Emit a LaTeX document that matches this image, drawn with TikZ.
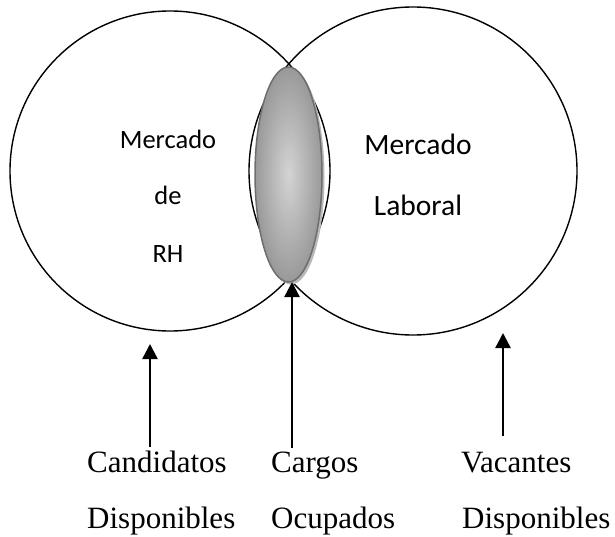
\documentclass[tikz,border=0pt]{standalone}
\usepackage{fontspec}
\setmainfont{Liberation Serif}
\newfontfamily\calibri{Carlito}
\usepackage{tikz}
\usetikzlibrary{arrows.meta}
\usetikzlibrary{shapes.geometric}
\usetikzlibrary{shadows}
\tikzset{ml/.style={font=\calibri\fontsize{26.5}{26.5}\selectfont, anchor=base}}
\tikzset{mr/.style={font=\calibri\fontsize{29.5}{29.5}\selectfont, anchor=base}}
\tikzset{lab/.style={font=\fontsize{31}{31}\selectfont, anchor=base west, inner sep=0}}
\tikzset{up/.style={line width=2.4pt, -{Triangle[width=15pt,length=15pt]}}}
\tikzset{mkt/.style={circle, draw, line width=1.4pt, inner sep=0}}

\begin{document}
\begin{tikzpicture}[x=1pt, y=-1pt, line join=round]
  \useasboundingbox (0,0) rectangle (615,537);
  % the two markets
  \node[mkt, minimum size=320pt] (RH) at (170,171) {};
  \node[mkt, minimum size=328pt] (LB) at (413,171) {};
  % filled jobs
  \node[ellipse, draw=black!57, line width=1.5pt, minimum width=67pt, minimum height=215pt, inner sep=0,
        inner color=black!17, outer color=black!40,
        drop shadow={shadow xshift=2.5pt, shadow yshift=-2.5pt, fill=black!28, opacity=1}] (CO) at (288.5,174.5) {};

  \node[ml] (RHa) at (168,149) {Mercado};
  \node[ml] (RHb) at (168,205) {de};
  \node[ml] (RHc) at (168,262) {RH};
  \node[mr] (LBa) at (418,155) {Mercado};
  \node[mr] (LBb) at (418,215) {Laboral};

  \node[lab] (CD1) at (87,472) {Candidatos};
  \node[lab] (CD2) at (87,528) {Disponibles};
  \node[lab] (CO1) at (271,472) {Cargos};
  \node[lab] (CO2) at (271,528) {Ocupados};
  \node[lab] (VD1) at (461,472) {Vacantes};
  \node[lab] (VD2) at (462,528) {Disponibles};

  \coordinate (tCD) at (150,447);
  \coordinate (hCD) at (150,344);
  \coordinate (tCO) at (292,448);
  \coordinate (hCO) at (292,282);
  \coordinate (tVD) at (503,436);
  \coordinate (hVD) at (503,333);
  \draw[up] (tCD) -- (hCD);
  \draw[up] (tCO) -- (hCO);
  \draw[up] (tVD) -- (hVD);
\end{tikzpicture}
\end{document}
